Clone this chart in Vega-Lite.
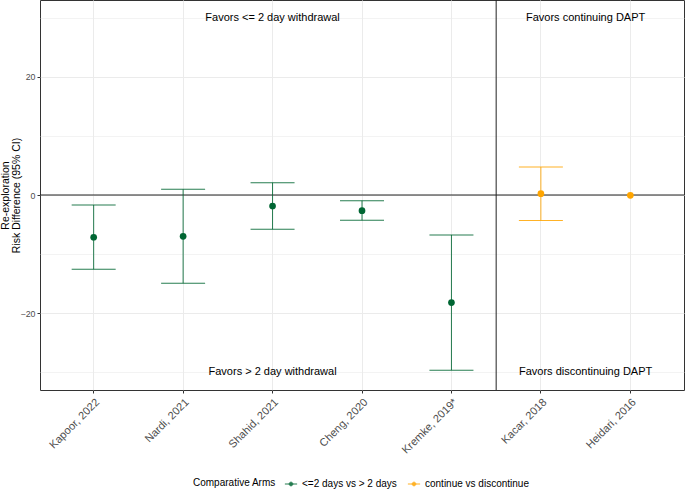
{
  "$schema": "https://vega.github.io/schema/vega-lite/v6.json",
  "width": 644,
  "height": 390,
  "autosize": {"type": "none"},
  "padding": {"left": 40, "top": 0, "right": 1, "bottom": 99},
  "background": "white",
  "config": {
    "font": "Liberation Sans",
    "view": {"stroke": "#333333", "strokeWidth": 1}
  },
  "datasets": {
    "studies": [
      {"study": "Kapoor, 2022", "arm": "<=2 days vs > 2 days", "rd": -7.15, "lo": -12.57, "hi": -1.69},
      {"study": "Nardi, 2021", "arm": "<=2 days vs > 2 days", "rd": -6.99, "lo": -14.93, "hi": 0.96},
      {"study": "Shahid, 2021", "arm": "<=2 days vs > 2 days", "rd": -1.86, "lo": -5.80, "hi": 2.08},
      {"study": "Cheng, 2020", "arm": "<=2 days vs > 2 days", "rd": -2.65, "lo": -4.28, "hi": -0.96},
      {"study": "Kremke, 2019*", "arm": "<=2 days vs > 2 days", "rd": -18.2, "lo": -29.64, "hi": -6.76},
      {"study": "Kacar, 2018", "arm": "continue vs discontinue", "rd": 0.22, "lo": -4.3, "hi": 4.73},
      {"study": "Heidari, 2016", "arm": "continue vs discontinue", "rd": -0.05, "lo": null, "hi": null}
    ],
    "leftNotes": [
      {"study": "Shahid, 2021", "y": 30, "label": "Favors <= 2 day withdrawal"},
      {"study": "Shahid, 2021", "y": -30, "label": "Favors > 2 day withdrawal"}
    ],
    "rightNotes": [
      {"study": "Kacar, 2018", "y": 30, "label": "Favors continuing DAPT"},
      {"study": "Kacar, 2018", "y": -30, "label": "Favors discontinuing DAPT"}
    ],
    "divider": [{"study": "Kremke, 2019*"}],
    "zero": [{"y": 0}]
  },
  "layer": [
    {
      "data": {"name": "zero"},
      "mark": {"type": "rule", "color": "#222222", "strokeWidth": 1},
      "encoding": {"y": {"field": "y", "type": "quantitative"}}
    },
    {
      "data": {"name": "divider"},
      "mark": {"type": "rule", "color": "#222222", "strokeWidth": 1},
      "encoding": {"x": {"field": "study", "type": "nominal", "bandPosition": 1}}
    },
    {
      "data": {"name": "studies"},
      "mark": {"type": "rule", "strokeWidth": 1, "opacity": 0.85},
      "encoding": {
        "x": {"field": "study", "type": "nominal"},
        "y": {"field": "lo", "type": "quantitative"},
        "y2": {"field": "hi"},
        "color": {"field": "arm", "type": "nominal"}
      }
    },
    {
      "data": {"name": "studies"},
      "mark": {"type": "tick", "size": 44, "thickness": 1, "opacity": 0.85},
      "encoding": {
        "x": {"field": "study", "type": "nominal"},
        "y": {"field": "lo", "type": "quantitative"},
        "color": {"field": "arm", "type": "nominal"}
      }
    },
    {
      "data": {"name": "studies"},
      "mark": {"type": "tick", "size": 44, "thickness": 1, "opacity": 0.85},
      "encoding": {
        "x": {"field": "study", "type": "nominal"},
        "y": {"field": "hi", "type": "quantitative"},
        "color": {"field": "arm", "type": "nominal"}
      }
    },
    {
      "data": {"name": "studies"},
      "mark": {"type": "circle", "size": 45, "opacity": 1},
      "encoding": {
        "x": {
          "field": "study",
          "type": "nominal",
          "sort": null,
          "scale": {
            "type": "band",
            "paddingInner": 0,
            "paddingOuter": 0.1,
            "domain": ["Kapoor, 2022", "Nardi, 2021", "Shahid, 2021", "Cheng, 2020", "Kremke, 2019*", "Kacar, 2018", "Heidari, 2016"]
          },
          "axis": {
            "title": null,
            "domain": false,
            "grid": true,
            "gridColor": "#EBEBEB",
            "gridWidth": 1,
            "bandPosition": 0.5,
            "tickColor": "#333333",
            "tickSize": 3,
            "labelAngle": -45,
            "labelAlign": "right",
            "labelBaseline": "top",
            "labelFontSize": 11,
            "labelColor": "#4D4D4D",
            "labelPadding": 3
          }
        },
        "y": {
          "field": "rd",
          "type": "quantitative",
          "scale": {"domain": [-33, 33], "nice": false, "zero": false},
          "axis": {
            "title": ["Re-exploration", "Risk Difference (95% CI)"],
            "titleFontSize": 10.5,
            "titleFontWeight": "normal",
            "titleColor": "#000000",
            "titleAngle": -90,
            "titleAlign": "center",
            "titleBaseline": "bottom",
            "titleX": -30,
            "titleY": 195,
            "titleLineHeight": 11.5,
            "domain": false,
            "values": [-30, -20, -10, 0, 10, 20, 30],
            "labelExpr": "datum.value % 20 == 0 ? datum.label : ''",
            "labelFontSize": 8.8,
            "labelColor": "#4D4D4D",
            "labelPadding": 2,
            "tickSize": 3,
            "tickColor": {"condition": {"test": "datum.value % 20 == 0", "value": "#333333"}, "value": "transparent"},
            "grid": true,
            "gridColor": "#EBEBEB",
            "gridWidth": {"condition": {"test": "datum.value % 20 == 0", "value": 1}, "value": 0.6}
          }
        },
        "color": {
          "field": "arm",
          "type": "nominal",
          "scale": {"domain": ["<=2 days vs > 2 days", "continue vs discontinue"], "range": ["#006633", "#FFA500"]},
          "legend": {
            "title": "Comparative Arms",
            "orient": "none",
            "legendX": 153,
            "legendY": 477,
            "direction": "horizontal",
            "titleOrient": "left",
            "titleFontSize": 10,
            "titleFontWeight": "normal",
            "titleColor": "#000000",
            "titlePadding": 8,
            "labelFontSize": 10,
            "labelColor": "#000000",
            "columnPadding": 8,
            "symbolType": "M-1,0H1M-0.3,0A0.3,0.3 0 1,1 0.3,0A0.3,0.3 0 1,1 -0.3,0Z",
            "symbolSize": 150,
            "symbolStrokeWidth": 1,
            "encode": {
              "symbols": {"update": {"stroke": {"scale": "color", "field": "value"}, "strokeWidth": {"value": 1}}}
            }
          }
        }
      }
    },
    {
      "data": {"name": "leftNotes"},
      "mark": {"type": "text", "fontSize": 11, "color": "#000000"},
      "encoding": {
        "x": {"field": "study", "type": "nominal"},
        "y": {"field": "y", "type": "quantitative"},
        "text": {"field": "label"}
      }
    },
    {
      "data": {"name": "rightNotes"},
      "mark": {"type": "text", "fontSize": 11, "color": "#000000"},
      "encoding": {
        "x": {"field": "study", "type": "nominal", "bandPosition": 1},
        "y": {"field": "y", "type": "quantitative"},
        "text": {"field": "label"}
      }
    }
  ]
}
